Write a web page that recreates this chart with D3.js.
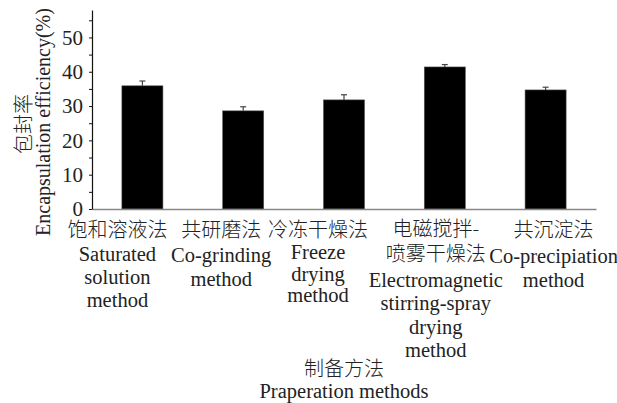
<!DOCTYPE html>
<html>
<head>
<meta charset="utf-8">
<script src="https://cdn.jsdelivr.net/npm/d3@7"></script>
<style>
  html, body { margin: 0; padding: 0; background: #fff; }
  svg { display: block; }
</style>
</head>
<body>
<svg id="chart" width="617" height="403"></svg>
<script>
// Encapsulation efficiency by preparation method
const categories = ["饱和溶液法", "共研磨法", "冷冻干燥法", "电磁搅拌-喷雾干燥法", "共沉淀法"];
const values = [35.9, 28.6, 31.8, 41.4, 34.7];
const errors = [1.4, 1.2, 1.5, 0.7, 0.8];
const yTicks = [0, 5, 10, 15, 20, 25, 30, 35, 40, 45, 50, 55];
const yLabelTicks = [0, 10, 20, 30, 40, 50];

// Multi-line category labels (Chinese name, then English name)
const labelLines = [
  [["饱和溶液法", "cjk"], ["Saturated", "serif"], ["solution", "serif"], ["method", "serif"]],
  [["共研磨法", "cjk"], ["Co-grinding", "serif"], ["method", "serif"]],
  [["冷冻干燥法", "cjk"], ["Freeze", "serif"], ["drying", "serif"], ["method", "serif"]],
  [["电磁搅拌-", "cjk"], ["喷雾干燥法", "cjk"], ["Electromagnetic", "serif"], ["stirring-spray", "serif"], ["drying", "serif"], ["method", "serif"]],
  [["共沉淀法", "cjk"], ["Co-precipiation", "serif"], ["method", "serif"]]
];

const SERIF = "'Times New Roman', Times, 'Liberation Serif', Tinos, 'DejaVu Serif', serif";
const CJK = "'Noto Sans CJK SC', 'Noto Sans CJK JP', sans-serif";
const fontOf = cls => cls === "cjk" ? CJK : SERIF;

const svg = d3.select("#chart");
const plotLeft = 92, plotRight = 596, plotTop = 10, plotBottom = 209;

const x = d3.scaleBand().domain(categories).range([plotLeft, plotRight])
  .paddingInner(0.593).paddingOuter(0.2965);
const y = d3.scaleLinear().domain([0, 58]).range([plotBottom, plotTop]);

// Bars
svg.append("g").selectAll("rect").data(categories).join("rect")
  .attr("x", d => x(d))
  .attr("y", (d, i) => y(values[i]))
  .attr("width", x.bandwidth())
  .attr("height", (d, i) => y(0) - y(values[i]))
  .attr("fill", "#000")
  .attr("stroke", "#555")
  .attr("stroke-width", 0.6);

// Upper error bars
const eb = svg.append("g").attr("stroke", "#444").attr("stroke-width", 1.2);
categories.forEach((c, i) => {
  const cx = x(c) + x.bandwidth() / 2;
  eb.append("line").attr("x1", cx).attr("x2", cx)
    .attr("y1", y(values[i])).attr("y2", y(values[i] + errors[i]));
  eb.append("line").attr("x1", cx - 3).attr("x2", cx + 3)
    .attr("y1", y(values[i] + errors[i])).attr("y2", y(values[i] + errors[i]));
});

// X axis baseline
const xAxis = svg.append("g").attr("transform", `translate(0,${plotBottom})`)
  .call(d3.axisBottom(x).tickSize(0).tickSizeOuter(0).tickFormat(""));
xAxis.select(".domain").attr("stroke", "#888").attr("stroke-width", 1.3);

// Y axis
const yAxis = svg.append("g").attr("transform", `translate(${plotLeft},0)`)
  .call(d3.axisLeft(y).tickValues(yTicks).tickSize(3).tickSizeOuter(0).tickPadding(6)
    .tickFormat(d => yLabelTicks.includes(d) ? d : ""));
yAxis.attr("font-family", SERIF).attr("font-size", 21);
yAxis.select(".domain").attr("stroke", "#111").attr("stroke-width", 1.2);
yAxis.selectAll(".tick line").attr("stroke", "#111");
yAxis.selectAll(".tick text")
  .attr("font-family", SERIF)
  .attr("fill", "#222");

// Category labels: horizontal shift from band centre and baselines per line
const labelShift = [-25, -22, -26, -9, 8];
const lineY = [
  [237, 261, 284, 307],
  [237, 262, 286],
  [237, 259, 281, 302],
  [236, 261, 287, 310, 334, 357],
  [237, 263, 287]
];
categories.forEach((c, i) => {
  const cx = x(c) + x.bandwidth() / 2 + labelShift[i];
  labelLines[i].forEach(([txt, cls], j) => {
    svg.append("text")
      .attr("x", cx)
      .attr("y", lineY[i][j])
      .attr("text-anchor", "middle")
      .attr("font-family", fontOf(cls))
      .attr("font-weight", cls === "cjk" ? 300 : 400)
      .attr("font-size", cls === "cjk" ? 20 : 20.5)
      .attr("fill", "#222")
      .text(txt);
  });
});

// X axis title
svg.append("text")
  .attr("x", 344).attr("y", 376).attr("text-anchor", "middle")
  .attr("font-family", CJK).attr("font-weight", 300).attr("font-size", 20)
  .attr("fill", "#222").text("制备方法");
svg.append("text")
  .attr("x", 344).attr("y", 398).attr("text-anchor", "middle")
  .attr("font-family", SERIF).attr("font-size", 20.5)
  .attr("fill", "#222").text("Praperation methods");

// Y axis title
svg.append("text")
  .attr("transform", "translate(31,124) rotate(-90)")
  .attr("text-anchor", "middle")
  .attr("font-family", CJK).attr("font-weight", 300).attr("font-size", 20)
  .attr("fill", "#222").text("包封率");
svg.append("text")
  .attr("transform", "translate(50,122) rotate(-90)")
  .attr("text-anchor", "middle")
  .attr("font-family", SERIF).attr("font-size", 20)
  .attr("fill", "#222").text("Encapsulation efficiency(%)");
</script>
</body>
</html>
